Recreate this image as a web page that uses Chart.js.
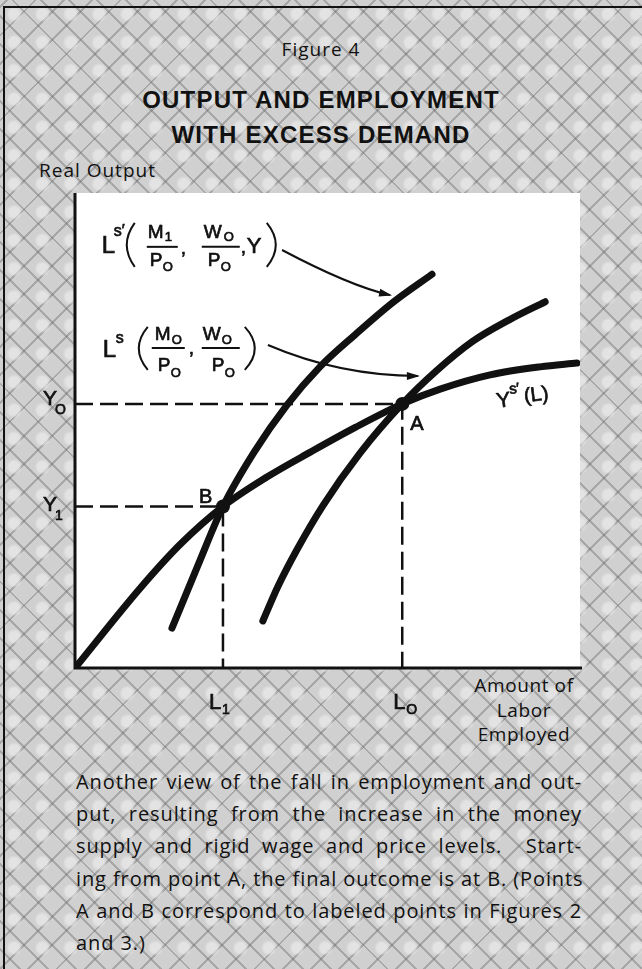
<!DOCTYPE html>
<html>
<head>
<meta charset="utf-8">
<title>Figure 4 - Output and Employment with Excess Demand</title>
<script src="https://cdn.jsdelivr.net/npm/chart.js@4.4.1/dist/chart.umd.min.js"></script>
<style>
  html, body { margin: 0; padding: 0; }
  body {
    width: 642px; height: 969px; position: relative; overflow: hidden;
    background-color: #d0d0d0;
    background-image:
      radial-gradient(circle, rgba(240,240,240,.6) 0 5px, rgba(240,240,240,0) 8px),
      repeating-linear-gradient(45deg, rgba(0,0,0,0) 0 13px, rgba(100,100,100,.38) 13px 15px, rgba(0,0,0,0) 15px 20px),
      repeating-linear-gradient(-45deg, rgba(0,0,0,0) 0 13px, rgba(100,100,100,.38) 13px 15px, rgba(0,0,0,0) 15px 20px);
    background-size: 28.3px 28.3px, auto, auto;
    font-family: "Open Sans", sans-serif;
    color: #111;
  }
  .frame { position: absolute; left: 3px; top: 6px; right: -4px; bottom: -4px;
           border-top: 2px solid #111; border-left: 2px solid #111; }
  .t { position: absolute; white-space: nowrap; }
  #fig { left: 0; width: 642px; top: 40px; text-align: center; font-size: 19px; line-height: 19px; letter-spacing: 1px; }
  #title { left: 0; width: 642px; top: 82px; text-align: center; font-family: "Liberation Sans", Arial, sans-serif;
           font-weight: bold; font-size: 24px; line-height: 35px; letter-spacing: 1.2px; }
  #ylab { left: 39px; top: 161px; font-size: 19px; line-height: 19px; letter-spacing: 1px; }
  #xlab { left: 464px; width: 120px; top: 673px; text-align: center; font-size: 19px; line-height: 24.5px; letter-spacing: 0.6px; }
  #note { position: absolute; left: 76px; top: 766px; width: 506px; font-size: 20px; line-height: 32.2px; letter-spacing: 0.9px; }
  #note div { text-align: justify; text-align-last: justify; white-space: nowrap; }
  #note div.last { text-align-last: left; }
  #wrap { position: absolute; left: 0; top: 0; width: 642px; height: 969px; }
</style>
</head>
<body>
<div class="frame"></div>
<div class="t" id="fig">Figure 4</div>
<div class="t" id="title">OUTPUT AND EMPLOYMENT<br>WITH EXCESS DEMAND</div>
<div class="t" id="ylab">Real Output</div>
<div class="t" id="xlab">Amount of<br>Labor<br>Employed</div>
<div id="note">
  <div>Another view of the fall in employment and out-</div>
  <div>put, resulting from the increase in the money</div>
  <div>supply and rigid wage and price levels.&nbsp; Start-</div>
  <div>ing from point A, the final outcome is at B. (Points</div>
  <div>A and B correspond to labeled points in Figures 2</div>
  <div class="last">and 3.)</div>
</div>
<div id="wrap"><canvas id="chart" width="642" height="969"></canvas></div>

<script>
// output curve Ys'(L)
const ysLabor  = [0, 1.29, 2.10, 2.93, 3.80, 4.67, 5.56, 6.48, 7.23, 8.22, 9.21, 9.94];
const ysOutput = [0, 1.68, 2.62, 3.40, 4.02, 4.55, 5.07, 5.56, 5.87, 6.17, 6.34, 6.42];
// labor supply after the money increase, Ls'
const lsNewLabor  = [1.92, 2.43, 2.93, 3.55, 4.20, 4.85, 5.55, 6.30, 7.07];
const lsNewOutput = [0.84, 2.15, 3.40, 4.55, 5.54, 6.34, 7.02, 7.70, 8.29];
// original labor supply, Ls
const lsLabor  = [3.72, 4.02, 4.40, 4.91, 5.64, 6.48, 7.15, 7.88, 8.60, 9.31];
const lsOutput = [0.99, 1.72, 2.50, 3.42, 4.52, 5.56, 6.25, 6.88, 7.33, 7.71];
// equilibrium points
const eqNames  = ['B', 'A'];
const eqLabor  = [2.93, 6.48];
const eqOutput = [3.40, 5.56];
const eqLaborTicks  = ['1', 'O'];   // L1, LO
const eqOutputTicks = ['1', 'O'];   // Y1, YO
const axisMax = 10;

const INK = '#111';
const SANS = '"Liberation Sans", Arial, Helvetica, sans-serif';

const pts = (xs, ys) => xs.map((x, i) => ({ x, y: ys[i] }));

const curve = (xs, ys) => ({
  data: pts(xs, ys), showLine: true, order: 1,
  borderColor: INK, borderWidth: 7, borderCapStyle: 'round', borderJoinStyle: 'round',
  pointRadius: 0, cubicInterpolationMode: 'monotone', fill: false
});

const guides = eqLabor.map((x, i) => ({
  data: [{ x: 0, y: eqOutput[i] }, { x, y: eqOutput[i] }, { x, y: 0 }],
  showLine: true, order: 2,
  borderColor: INK, borderWidth: 2.5, borderDash: [18, 7], pointRadius: 0, fill: false
}));

// print-style text: fill plus a hairline stroke so it reads a bit heavier
function txt(ctx, s, x, y, size) {
  ctx.font = size + 'px ' + SANS;
  ctx.fillText(s, x, y);
  const lw = ctx.lineWidth;
  ctx.lineWidth = 0.7;
  ctx.strokeText(s, x, y);
  ctx.lineWidth = lw;
}
function bar(ctx, x1, x2, y) {
  ctx.beginPath(); ctx.moveTo(x1, y); ctx.lineTo(x2, y); ctx.stroke();
}
// thin curved parenthesis: ends at xEnd, bulges to xMid
function paren(ctx, xEnd, xMid, top, bottom) {
  ctx.beginPath();
  ctx.moveTo(xEnd, top);
  ctx.quadraticCurveTo(2 * xMid - xEnd, (top + bottom) / 2, xEnd, bottom);
  ctx.stroke();
}
function arrow(ctx, p0, c, p1) {
  ctx.beginPath();
  ctx.moveTo(p0[0], p0[1]);
  ctx.quadraticCurveTo(c[0], c[1], p1[0], p1[1]);
  ctx.stroke();
  const ang = Math.atan2(p1[1] - c[1], p1[0] - c[0]);
  ctx.save();
  ctx.translate(p1[0], p1[1]); ctx.rotate(ang);
  ctx.beginPath(); ctx.moveTo(2, 0); ctx.lineTo(-11, -4); ctx.lineTo(-11, 4); ctx.closePath(); ctx.fill();
  ctx.restore();
}

const paper = {
  id: 'paper',
  beforeDraw(chart) {
    const { ctx, chartArea: a } = chart;
    ctx.save();
    ctx.fillStyle = '#fff';
    ctx.fillRect(a.left, a.top, a.right - a.left, a.bottom - a.top);
    ctx.restore();
  },
  afterDatasetsDraw(chart) {
    const { ctx, chartArea: a } = chart;
    const xs = chart.scales.x, ys = chart.scales.y;
    const P = (x, y) => [xs.getPixelForValue(x), ys.getPixelForValue(y)];
    ctx.save();
    ctx.fillStyle = INK; ctx.strokeStyle = INK;

    // axes
    ctx.lineWidth = 3;
    ctx.beginPath();
    ctx.moveTo(a.left, a.top); ctx.lineTo(a.left, a.bottom); ctx.lineTo(a.right + 2, a.bottom);
    ctx.stroke();

    // tick labels Y1, YO and L1, LO
    eqOutput.forEach((v, i) => {
      const y = ys.getPixelForValue(v);
      const dy = i === 0 ? 4 : 1;
      txt(ctx, 'Y', a.left - 32, y + dy, 21);
      txt(ctx, eqOutputTicks[i], a.left - 20, y + dy + 9, 14);
    });
    eqLabor.forEach((v, i) => {
      const x = xs.getPixelForValue(v);
      const dx = i === 0 ? -14 : -9;
      txt(ctx, 'L', x + dx, a.bottom + 41, 22);
      txt(ctx, eqLaborTicks[i], x + dx + 13, a.bottom + 46, 14);
    });

    // point labels
    eqNames.forEach((n, i) => {
      const [x, y] = P(eqLabor[i], eqOutput[i]);
      if (n === 'A') txt(ctx, n, x + 8, y + 26, 20);
      else txt(ctx, n, x - 24, y - 4, 20);
    });

    // Ls' formula
    ctx.lineWidth = 2;
    let [ax, ab] = P(0.53, 8.74);
    txt(ctx, 'L', ax, ab, 24);
    txt(ctx, 's\u2032', ax + 12, ab - 17, 16);
    paren(ctx, ax + 33, ax + 25, ab - 30, ab + 14);
    txt(ctx, 'M', ax + 46, ab - 15, 19); txt(ctx, '1', ax + 63, ab - 12, 13);
    bar(ctx, ax + 45, ax + 76, ab - 6);
    txt(ctx, 'P', ax + 48, ab + 13, 19); txt(ctx, 'O', ax + 61, ab + 18, 13);
    txt(ctx, ',', ax + 79, ab + 1, 19);
    txt(ctx, 'W', ax + 102, ab - 15, 19); txt(ctx, 'O', ax + 122, ab - 12, 13);
    bar(ctx, ax + 100, ax + 138, ab - 6);
    txt(ctx, 'P', ax + 106, ab + 13, 19); txt(ctx, 'O', ax + 119, ab + 18, 13);
    txt(ctx, ',', ax + 139, ab, 19);
    txt(ctx, 'Y', ax + 145, ab, 22);
    paren(ctx, ax + 165, ax + 174, ab - 30, ab + 14);

    // Ls formula
    [ax, ab] = P(0.55, 6.55);
    txt(ctx, 'L', ax, ab, 24);
    txt(ctx, 's', ax + 13, ab - 14, 16);
    paren(ctx, ax + 45, ax + 36, ab - 30, ab + 13);
    txt(ctx, 'M', ax + 52, ab - 17, 19); txt(ctx, 'O', ax + 69, ab - 13, 13);
    bar(ctx, ax + 49, ax + 82, ab - 9);
    txt(ctx, 'P', ax + 55, ab + 14, 19); txt(ctx, 'O', ax + 68, ab + 20, 13);
    txt(ctx, ',', ax + 86, ab - 3, 19);
    txt(ctx, 'W', ax + 100, ab - 17, 19); txt(ctx, 'O', ax + 119, ab - 13, 13);
    bar(ctx, ax + 99, ax + 137, ab - 9);
    txt(ctx, 'P', ax + 109, ab + 14, 19); txt(ctx, 'O', ax + 122, ab + 20, 13);
    paren(ctx, ax + 142, ax + 152, ab - 30, ab + 13);

    // arrows from labels to curves
    ctx.lineWidth = 2;
    arrow(ctx, P(4.10, 8.80), P(5.45, 8.04), P(6.24, 7.85));
    arrow(ctx, P(3.82, 6.80), P(5.25, 6.15), P(6.79, 6.15));

    // Ys'(L) label, slightly tilted along the curve
    [ax, ab] = P(8.36, 5.48);
    ctx.translate(ax, ab); ctx.rotate(-0.12);
    txt(ctx, 'Y', 0, 0, 21);
    txt(ctx, 's\u2032', 14, -12, 15);
    txt(ctx, '(L)', 28, -2, 20);
    ctx.restore();
  }
};

new Chart(document.getElementById('chart'), {
  type: 'scatter',
  data: {
    datasets: [
      {
        data: pts(eqLabor, eqOutput), order: 0,
        pointRadius: 7, pointBackgroundColor: INK, pointBorderWidth: 0, showLine: false
      },
      curve(ysLabor, ysOutput),
      curve(lsNewLabor, lsNewOutput),
      curve(lsLabor, lsOutput),
      ...guides
    ]
  },
  options: {
    responsive: false,
    animation: false,
    events: [],
    layout: { padding: { left: 75, right: 62, top: 193, bottom: 301 } },
    scales: {
      x: { type: 'linear', min: 0, max: axisMax, display: false },
      y: { type: 'linear', min: 0, max: axisMax, display: false }
    },
    plugins: { legend: { display: false }, tooltip: { enabled: false } }
  },
  plugins: [paper]
});
</script>
</body>
</html>
